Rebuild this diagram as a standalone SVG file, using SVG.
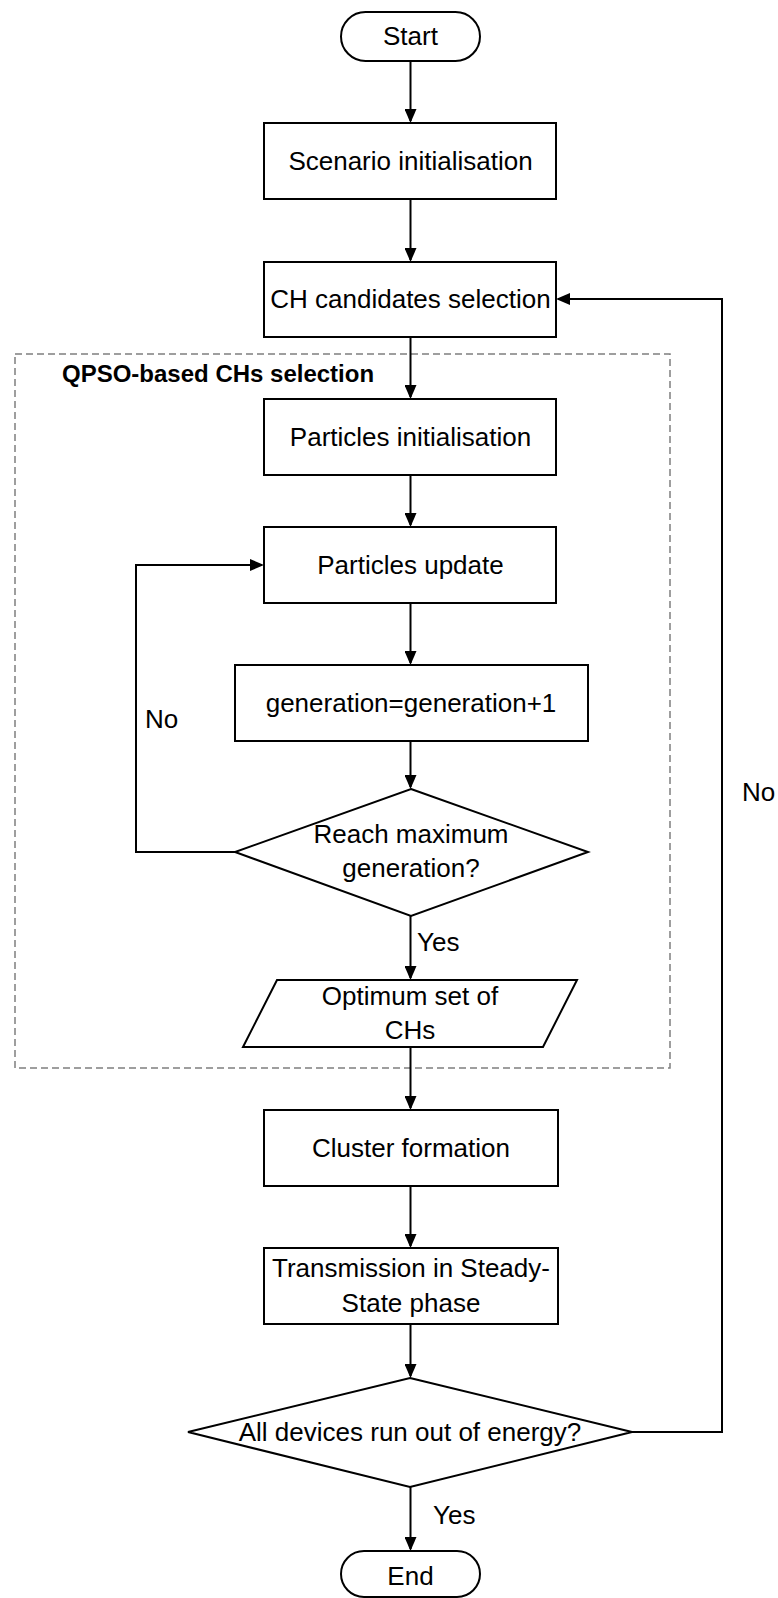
<svg xmlns="http://www.w3.org/2000/svg" width="778" height="1598" viewBox="0 0 778 1598">
  <style>
    .shape { fill: #ffffff; stroke: #000000; stroke-width: 2; }
    .edge { fill: none; stroke: #000000; stroke-width: 2; }
    .label { font-family: "Liberation Sans", Arial, sans-serif; font-size: 26px; fill: #000000; }
    .mid { text-anchor: middle; }
    .title { font-family: "Liberation Sans", Arial, sans-serif; font-size: 24px; font-weight: bold; fill: #000000; }
    .frame { fill: none; stroke: #7f7f7f; stroke-width: 1.5; stroke-dasharray: 7 4; }
  </style>
  <defs>
    <marker id="arrow" markerUnits="userSpaceOnUse" markerWidth="14" markerHeight="12" refX="12" refY="6" orient="auto">
      <path d="M0,0 L14,6 L0,12 z" fill="#000000"/>
    </marker>
  </defs>

  <rect width="778" height="1598" fill="#ffffff"/>

  <!-- QPSO sub-process frame -->
  <g id="qpso-frame">
    <rect class="frame" x="15" y="354" width="655" height="714"/>
    <text class="title" x="62" y="382">QPSO-based CHs selection</text>
  </g>

  <!-- connectors -->
  <g id="connectors">
    <path class="edge" d="M410.5,61 V121" marker-end="url(#arrow)"/>
    <path class="edge" d="M410.5,199 V260" marker-end="url(#arrow)"/>
    <path class="edge" d="M410.5,337 V397" marker-end="url(#arrow)"/>
    <path class="edge" d="M410.5,475 V525" marker-end="url(#arrow)"/>
    <path class="edge" d="M410.5,603 V663" marker-end="url(#arrow)"/>
    <path class="edge" d="M410.5,741 V787" marker-end="url(#arrow)"/>
    <path class="edge" d="M410.5,916 V978" marker-end="url(#arrow)"/>
    <path class="edge" d="M410.5,1047 V1108" marker-end="url(#arrow)"/>
    <path class="edge" d="M410.5,1186 V1246" marker-end="url(#arrow)"/>
    <path class="edge" d="M410.5,1324 V1376" marker-end="url(#arrow)"/>
    <path class="edge" d="M410.5,1487 V1549" marker-end="url(#arrow)"/>
    <!-- loop back: not reached maximum generation -->
    <path class="edge" d="M235,852 H136 V565 H262" marker-end="url(#arrow)"/>
    <!-- loop back: devices still have energy -->
    <path class="edge" d="M632,1432 H722 V299 H558" marker-end="url(#arrow)"/>
    <text class="label" x="145" y="728">No</text>
    <text class="label" x="742" y="801">No</text>
    <text class="label" x="417" y="951">Yes</text>
    <text class="label" x="433" y="1524">Yes</text>
  </g>

  <g id="start">
    <rect class="shape" x="341" y="12" width="139" height="49" rx="24.5"/>
    <text class="label mid" x="410.5" y="45">Start</text>
  </g>

  <g id="scenario-init">
    <rect class="shape" x="264" y="123" width="292" height="76"/>
    <text class="label mid" x="410.5" y="170">Scenario initialisation</text>
  </g>

  <g id="ch-candidates">
    <rect class="shape" x="264" y="262" width="292" height="75"/>
    <text class="label mid" x="410.5" y="308">CH candidates selection</text>
  </g>

  <g id="particles-init">
    <rect class="shape" x="264" y="399" width="292" height="76"/>
    <text class="label mid" x="410.5" y="446">Particles initialisation</text>
  </g>

  <g id="particles-update">
    <rect class="shape" x="264" y="527" width="292" height="76"/>
    <text class="label mid" x="410.5" y="574">Particles update</text>
  </g>

  <g id="generation-step">
    <rect class="shape" x="235" y="665" width="353" height="76"/>
    <text class="label mid" x="411" y="712">generation=generation+1</text>
  </g>

  <g id="max-generation">
    <polygon class="shape" points="411,789 588,852 411,916 235,852"/>
    <text class="label mid" x="411" y="843">Reach maximum</text>
    <text class="label mid" x="411" y="877">generation?</text>
  </g>

  <g id="optimum-set">
    <polygon class="shape" points="277,980 577,980 543,1047 243,1047"/>
    <text class="label mid" x="410" y="1005">Optimum set of</text>
    <text class="label mid" x="410" y="1039">CHs</text>
  </g>

  <g id="cluster-formation">
    <rect class="shape" x="264" y="1110" width="294" height="76"/>
    <text class="label mid" x="411" y="1157">Cluster formation</text>
  </g>

  <g id="steady-state">
    <rect class="shape" x="264" y="1248" width="294" height="76"/>
    <text class="label mid" x="411" y="1277">Transmission in Steady-</text>
    <text class="label mid" x="411" y="1312">State phase</text>
  </g>

  <g id="energy-check">
    <polygon class="shape" points="410,1378 632,1432 410,1487 188,1432"/>
    <text class="label mid" x="410" y="1441">All devices run out of energy?</text>
  </g>

  <g id="end">
    <rect class="shape" x="341" y="1551" width="139" height="46" rx="23"/>
    <text class="label mid" x="410.5" y="1585">End</text>
  </g>
</svg>
